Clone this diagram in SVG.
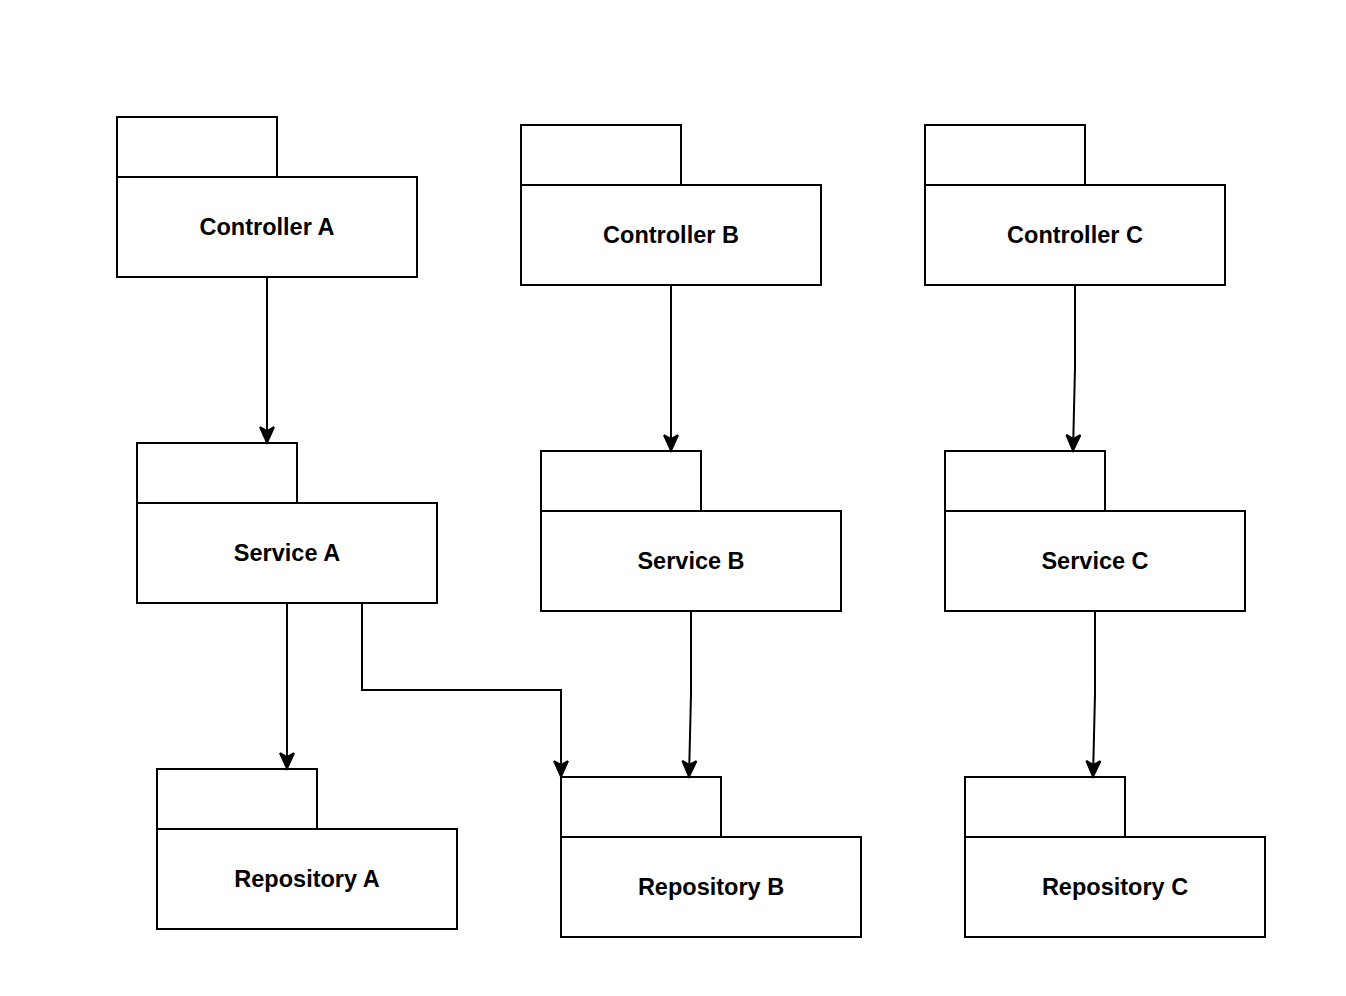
<svg xmlns="http://www.w3.org/2000/svg" width="1346" height="996" viewBox="0 0 1346 996">
<style>
.b{fill:#fff;stroke:#000;stroke-width:2}
.t{font-family:"Liberation Sans",Arial,sans-serif;font-weight:bold;font-size:23.5px;text-anchor:middle;fill:#000}
.e{fill:none;stroke:#000;stroke-width:2}
</style>
<defs>
<marker id="a" markerUnits="userSpaceOnUse" markerWidth="20" markerHeight="18" refX="18" refY="8" orient="auto" viewBox="0 0 20 16">
<path d="M17.5,8 L2,1 L6,8 L2,15 Z" fill="#000" stroke="#000" stroke-width="2" stroke-linejoin="miter" stroke-miterlimit="3"/>
</marker>
</defs>
<rect width="1346" height="996" fill="#fff"/>
<g id="controller-a"><rect class="b" x="117" y="117" width="160" height="60"/><rect class="b" x="117" y="177" width="300" height="100"/><text class="t" x="267" y="235">Controller A</text></g>
<g id="controller-b"><rect class="b" x="521" y="125" width="160" height="60"/><rect class="b" x="521" y="185" width="300" height="100"/><text class="t" x="671" y="243">Controller B</text></g>
<g id="controller-c"><rect class="b" x="925" y="125" width="160" height="60"/><rect class="b" x="925" y="185" width="300" height="100"/><text class="t" x="1075" y="243">Controller C</text></g>
<g id="service-a"><rect class="b" x="137" y="443" width="160" height="60"/><rect class="b" x="137" y="503" width="300" height="100"/><text class="t" x="287" y="561">Service A</text></g>
<g id="service-b"><rect class="b" x="541" y="451" width="160" height="60"/><rect class="b" x="541" y="511" width="300" height="100"/><text class="t" x="691" y="569">Service B</text></g>
<g id="service-c"><rect class="b" x="945" y="451" width="160" height="60"/><rect class="b" x="945" y="511" width="300" height="100"/><text class="t" x="1095" y="569">Service C</text></g>
<g id="repository-a"><rect class="b" x="157" y="769" width="160" height="60"/><rect class="b" x="157" y="829" width="300" height="100"/><text class="t" x="307" y="887">Repository A</text></g>
<g id="repository-b"><rect class="b" x="561" y="777" width="160" height="60"/><rect class="b" x="561" y="837" width="300" height="100"/><text class="t" x="711" y="895">Repository B</text></g>
<g id="repository-c"><rect class="b" x="965" y="777" width="160" height="60"/><rect class="b" x="965" y="837" width="300" height="100"/><text class="t" x="1115" y="895">Repository C</text></g>
<g id="connectors">
<path class="e" marker-end="url(#a)" d="M267,278 L267,443"/>
<path class="e" marker-end="url(#a)" d="M671,286 L671,451"/>
<path class="e" marker-end="url(#a)" d="M1075,286 L1075,368 L1073,451"/>
<path class="e" marker-end="url(#a)" d="M287,604 L287,769"/>
<path class="e" marker-end="url(#a)" d="M362,604 L362,690 L561,690 L561,777"/>
<path class="e" marker-end="url(#a)" d="M691,612 L691,694 L689,777"/>
<path class="e" marker-end="url(#a)" d="M1095,612 L1095,694 L1093,777"/>
</g>
</svg>
